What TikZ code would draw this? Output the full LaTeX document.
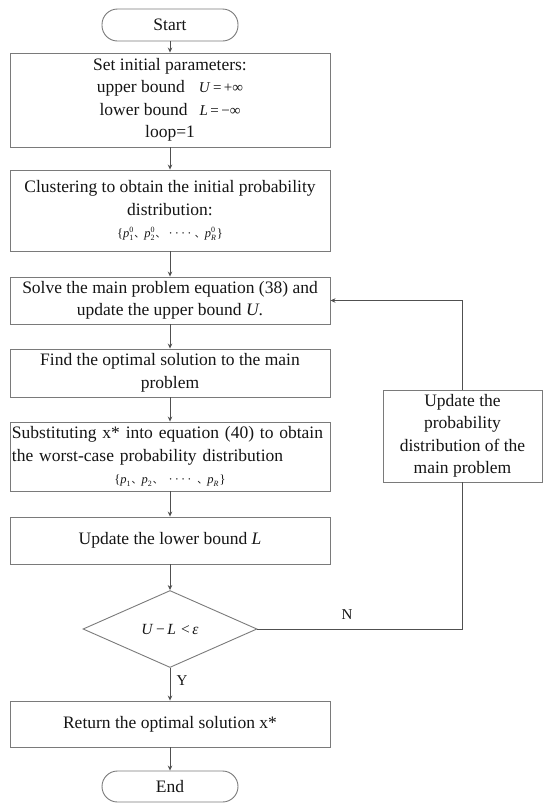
\documentclass[tikz,border=0pt]{standalone}
\usepackage{fontspec}
\setmainfont{Liberation Serif}
\newfontfamily\cjk{Noto Sans CJK SC}
\usetikzlibrary{shapes.geometric,arrows.meta}
\definecolor{boxc}{HTML}{7A7A7A}
\definecolor{linec}{HTML}{505050}
\definecolor{txt}{HTML}{151515}
\newcommand\mysep{{\cjk\fontsize{10}{10}\selectfont 、}}
\newcommand\mathfs{\fontsize{15}{18}\selectfont}
\newcommand\formfs{\fontsize{12.5}{14}\selectfont}
\newcommand\scr[1]{{\fontsize{8}{8}\selectfont #1}}
\newcommand\psupsub[2]{\textit{p}\makebox[0pt][l]{\raisebox{5.2pt}{\scr{#1}}}\raisebox{-3pt}{\scr{#2}}\hspace{1pt}}
\newcommand\psub[1]{\textit{p}\raisebox{-3pt}{\scr{#1}}\hspace{1pt}}
\tikzset{
  box/.style={draw=boxc, line width=0.9pt, minimum width=320pt, align=center,
    inner sep=0pt, text=txt, font=\fontsize{17.5}{22.5}\selectfont},
  term/.style={draw=boxc, line width=0.9pt, rounded corners=15.5pt, minimum width=136pt,
    inner sep=0pt, text=txt, font=\fontsize{17.5}{22.5}\selectfont},
  decis/.style={draw=boxc, line width=0.9pt, diamond, aspect=2.26, minimum width=174pt,
    minimum height=77pt, inner sep=0pt, text=txt, font=\fontsize{15.5}{18}\selectfont},
  flow/.style={draw=linec, line width=0.8pt, -{Stealth[length=5pt,width=4.5pt]}},
  plain/.style={draw=linec, line width=0.8pt},
  lab/.style={text=txt, font=\fontsize{15}{18}\selectfont, inner sep=0pt},
}
\begin{document}
\begin{tikzpicture}[x=1pt,y=-1pt]
\useasboundingbox (0,0) rectangle (550,812);
\node[term, minimum height=32pt] (start) at (170,25) {Start};
\node[box, minimum height=94pt] (init) at (170,100) {Set initial parameters:\\
  upper bound\hspace{14pt}{\mathfs\textit{U}\,=\,+∞}\\
  lower bound\hspace{12pt}{\mathfs\textit{L}\,=\,−∞}\\
  loop=1};
\node[box, minimum height=81pt] (clus) at (170,210.5) {Clustering to obtain the initial probability\\
  distribution:\\
  {\formfs\{\psupsub{0}{1}\mysep\psupsub{0}{2}\mysep\ ·\,·\,·\,·\ \mysep\psupsub{0}{\textit{R}}\}}};
\node[box, minimum height=47pt] (solve) at (170,300.5) {Solve the main problem equation (38) and\\
  update the upper bound \textit{U}.};
\node[box, minimum height=48pt] (find) at (170,373) {Find the optimal solution to the main\\ problem};
\node[box, minimum height=69pt, text width=316pt, align=left] (subst) at (170,456.5) {Substituting x* into equation (40) to obtain\\
  the worst-case probability distribution\\
  \hspace*{\fill}{\formfs\{\psub{1}\mysep\psub{2}\mysep\ ·\,·\,·\,·\ \mysep\psub{\textit{R}}\}}\hspace*{\fill}};
\node[box, minimum height=47pt] (lower) at (170,540.5) {Update the lower bound \textit{L}};
\node[decis] (dec) at (170,629) {\textit{U}\,−\,\textit{L}\,\,<\,\textit{ε}};
\node[box, minimum height=46pt] (ret) at (170,724) {Return the optimal solution x*};
\node[term, minimum height=31pt] (end) at (170,786.5) {End};
\node[box, minimum width=159pt, minimum height=92pt] (upd) at (462.5,436) {Update the\\ probability\\ distribution of the\\ main problem};
\node[lab] (ylab) at (182,681) {Y};
\node[lab] (nlab) at (347,615) {N};
\draw[flow] (start) -- (init);
\draw[flow] (init) -- (clus);
\draw[flow] (clus) -- (solve);
\draw[flow] (solve) -- (find);
\draw[flow] (find) -- (subst);
\draw[flow] (subst) -- (lower);
\draw[flow] (lower) -- (dec);
\draw[flow] (dec) -- (ret);
\draw[flow] (ret) -- (end);
\draw[plain] (dec.east) -| (upd.south);
\draw[flow] (upd.north) |- (solve.east);
\end{tikzpicture}
\end{document}
